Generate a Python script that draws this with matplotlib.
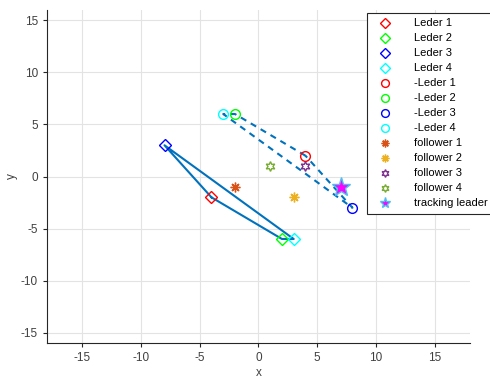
import numpy as np
import matplotlib
matplotlib.use('Agg')
from matplotlib import pyplot as plt

plt.rcParams['font.family'] = ['Liberation Sans', 'DejaVu Sans']
plt.rcParams['axes.unicode_minus'] = False

# leader positions and their mirrored (negated) positions
leader_x = [-4, 2, -8, 3]
leader_y = [-2, -6, 3, -6]
mirror_x = [4, -2, 8, -3]
mirror_y = [2, 6, -3, 6]
leader_colors = ['#FF0000', '#00FF00', '#0000FF', '#00FFFF']

follower_x = [-2, 3, 4, 1]
follower_y = [-1, -2, 1, 1]
follower_colors = ['#D95319', '#EDB120', '#7E2F8E', '#77AC30']

track_x = [7]
track_y = [-1]

# polygon order: Leder 1 -> 2 -> 4 -> 3 -> 1
order = [0, 1, 3, 2, 0]

fig = plt.figure(figsize=(4.9, 3.8), dpi=100)
ax = fig.add_axes([0.096, 0.097, 0.863, 0.877])

line_c = '#0072BD'
ax.plot([leader_x[i] for i in order], [leader_y[i] for i in order],
        color=line_c, lw=1.5, zorder=2)
ax.plot([mirror_x[i] for i in order], [mirror_y[i] for i in order],
        color=line_c, lw=1.5, ls=(0, (3, 2.5)), zorder=2)

handles = []
for i in range(4):
    h, = ax.plot(leader_x[i], leader_y[i], ls='none', marker='D', ms=6,
                 mfc='none', mec=leader_colors[i], mew=1, label='Leder %d' % (i + 1), zorder=3)
    handles.append(h)
for i in range(4):
    h, = ax.plot(mirror_x[i], mirror_y[i], ls='none', marker='o', ms=7,
                 mfc='none', mec=leader_colors[i], mew=1, label='-Leder %d' % (i + 1), zorder=3)
    handles.append(h)
fmarks = [(8, 2, 0), (8, 2, 0), (6, 1, 0), (6, 1, 0)]
for i in range(4):
    h, = ax.plot(follower_x[i], follower_y[i], ls='none', marker=fmarks[i], ms=7,
                 mfc='none', mec=follower_colors[i], mew=1, label='follower %d' % (i + 1), zorder=3)
    handles.append(h)
h, = ax.plot(track_x, track_y, ls='none', marker='*', ms=14, mfc='#FF00FF',
             mec='#4DBEEE', mew=1, label='tracking leader', zorder=4)
handles.append(h)

ax.set_xlim(-18, 18)
ax.set_ylim(-16, 16)
ax.set_xticks(np.arange(-15, 16, 5))
ax.set_yticks(np.arange(-15, 16, 5))
ax.grid(True, color='#e3e3e3', lw=0.8)
ax.set_axisbelow(True)
for s in ['top', 'right']:
    ax.spines[s].set_visible(False)
for s in ['left', 'bottom']:
    ax.spines[s].set_color('#262626')
ax.tick_params(direction='out', length=3, labelsize=8.5, colors='#262626',
               labelcolor='#404040')
ax.set_xlabel('x', fontsize=8.5, color='#404040', labelpad=2)
ax.set_ylabel('y', fontsize=8.5, color='#404040', labelpad=2)

leg = fig.legend(handles=handles, loc='upper left', bbox_to_anchor=(0.749, 0.966),
                 borderaxespad=0, fontsize=8, frameon=True, fancybox=False,
                 edgecolor='#262626', framealpha=1, labelspacing=0.45,
                 handlelength=2.2, borderpad=0.5, handletextpad=1.5, markerscale=0.8)
leg.get_frame().set_linewidth(0.8)
# smaller star in the legend, like the reference
leg.legend_handles[-1].set_markersize(8)

fig.savefig('out.png', dpi=100)
